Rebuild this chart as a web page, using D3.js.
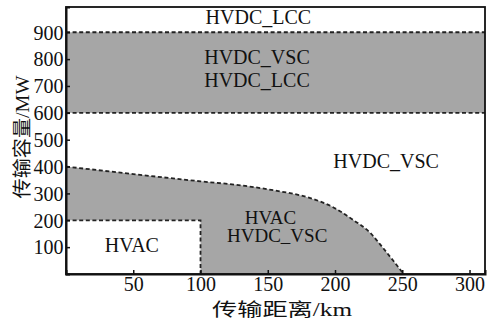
<!DOCTYPE html>
<html><head><meta charset="utf-8">
<script src="https://cdn.jsdelivr.net/npm/d3@7"></script>
<style>
html,body{margin:0;padding:0;background:#fff;}
svg{display:block;}
svg text{font-family:"Liberation Serif","Times New Roman","Noto Sans CJK SC",serif !important;fill:#111;}
</style></head>
<body>
<script>
// ---- data ----
const xTicks = [50, 100, 150, 200, 250, 300];
const yTicks = [100, 200, 300, 400, 500, 600, 700, 800, 900];
const xDomain = [0, 311.5];
const yDomain = [0, 994];
// boundary of HVAC / HVDC_VSC region (distance km, capacity MW)
const curveDist = [0, 50, 100, 130, 155, 180, 198, 213, 226, 236, 244, 251];
const curveCap  = [400, 372, 345, 330, 311, 285, 250, 203, 154, 95, 45, 0];
// HVAC-only rectangle
const hvacDist = [0, 100];
const hvacCap = [0, 200];
// HVDC_VSC + HVDC_LCC band
const bandCap = [600, 900];
// region labels
const labelText = ["HVDC_LCC", "HVDC_VSC", "HVDC_LCC", "HVDC_VSC", "HVAC", "HVAC", "HVDC_VSC"];
const labelDist = [143, 142, 142, 238, 49, 152, 157];
const labelCap  = [930, 780, 695, 395, 83, 188, 120];
const xTitle = "传输距离/km";
const yTitle = "传输容量/MW";

const W = 491, H = 325;
const svg = d3.select("body").append("svg").attr("width", W).attr("height", H);
const x = d3.scaleLinear().domain(xDomain).range([66, 485]);
const y = d3.scaleLinear().domain(yDomain).range([274, 7]);

const gray = "#a6a6a6";
const dashC = "#222";
const dash = "4,2.6";

// band
svg.append("rect")
  .attr("x", x(xDomain[0])).attr("width", x(xDomain[1]) - x(xDomain[0]))
  .attr("y", y(bandCap[1])).attr("height", y(bandCap[0]) - y(bandCap[1]))
  .attr("fill", gray);
bandCap.forEach(v => {
  svg.append("line").attr("x1", x(xDomain[0])).attr("x2", x(xDomain[1]))
    .attr("y1", y(v)).attr("y2", y(v))
    .attr("stroke", dashC).attr("stroke-width", 1.8).attr("stroke-dasharray", dash);
});

// lower region
const pts = curveDist.map((d, i) => [d, curveCap[i]]);
const area = d3.area().x(d => x(d[0])).y0(y(0)).y1(d => y(d[1])).curve(d3.curveMonotoneX);
svg.append("path").datum(pts).attr("d", area).attr("fill", gray);
svg.append("rect")
  .attr("x", x(hvacDist[0])).attr("width", x(hvacDist[1]) - x(hvacDist[0]))
  .attr("y", y(hvacCap[1])).attr("height", y(hvacCap[0]) - y(hvacCap[1]))
  .attr("fill", "#fff");
const line = d3.line().x(d => x(d[0])).y(d => y(d[1])).curve(d3.curveMonotoneX);
svg.append("path").datum(pts).attr("d", line).attr("fill", "none")
  .attr("stroke", dashC).attr("stroke-width", 1.8).attr("stroke-dasharray", dash);
svg.append("path")
  .datum([[hvacDist[0], hvacCap[1]], [hvacDist[1], hvacCap[1]], [hvacDist[1], hvacCap[0]]])
  .attr("d", d3.line().x(d => x(d[0])).y(d => y(d[1])))
  .attr("fill", "none").attr("stroke", dashC).attr("stroke-width", 1.8).attr("stroke-dasharray", dash);

// frame
svg.append("rect").attr("x", x(xDomain[0])).attr("y", y(yDomain[1]))
  .attr("width", x(xDomain[1]) - x(xDomain[0])).attr("height", y(yDomain[0]) - y(yDomain[1]))
  .attr("fill", "none").attr("stroke", "#111").attr("stroke-width", 1.8);

// axes
const gx = svg.append("g").attr("transform", `translate(0,${y(0)})`)
  .call(d3.axisBottom(x).tickValues(xTicks).tickSize(-4).tickPadding(2.5));
const gy = svg.append("g").attr("transform", `translate(${x(0)},0)`)
  .call(d3.axisLeft(y).tickValues(yTicks).tickSize(-4).tickPadding(2.5));
[gx, gy].forEach(g => {
  g.attr("font-family", null);
  g.select(".domain").attr("stroke", "#111").attr("stroke-width", 2);
  g.selectAll(".tick line").attr("stroke", "#111").attr("stroke-width", 1.5);
  g.selectAll(".tick text").attr("font-size", 20).attr("fill", "#111");
});
gy.selectAll(".tick text").attr("dy", "0.34em");

// region labels
svg.selectAll(".lbl").data(labelText).enter().append("text")
  .attr("class", "lbl")
  .attr("x", (d, i) => x(labelDist[i])).attr("y", (d, i) => y(labelCap[i]))
  .attr("text-anchor", "middle").attr("font-size", (d, i) => i >= 5 ? 19 : 20).text(d => d);

// titles
svg.append("text").attr("x", 282).attr("y", 316).attr("text-anchor", "middle")
  .attr("font-size", 18).attr("textLength", 140).attr("lengthAdjust", "spacingAndGlyphs")
  .text(xTitle);
svg.append("text").attr("transform", "translate(29,137) rotate(-90)").attr("text-anchor", "middle")
  .attr("font-size", 19).attr("textLength", 123).attr("lengthAdjust", "spacingAndGlyphs")
  .text(yTitle);
</script>
</body></html>
